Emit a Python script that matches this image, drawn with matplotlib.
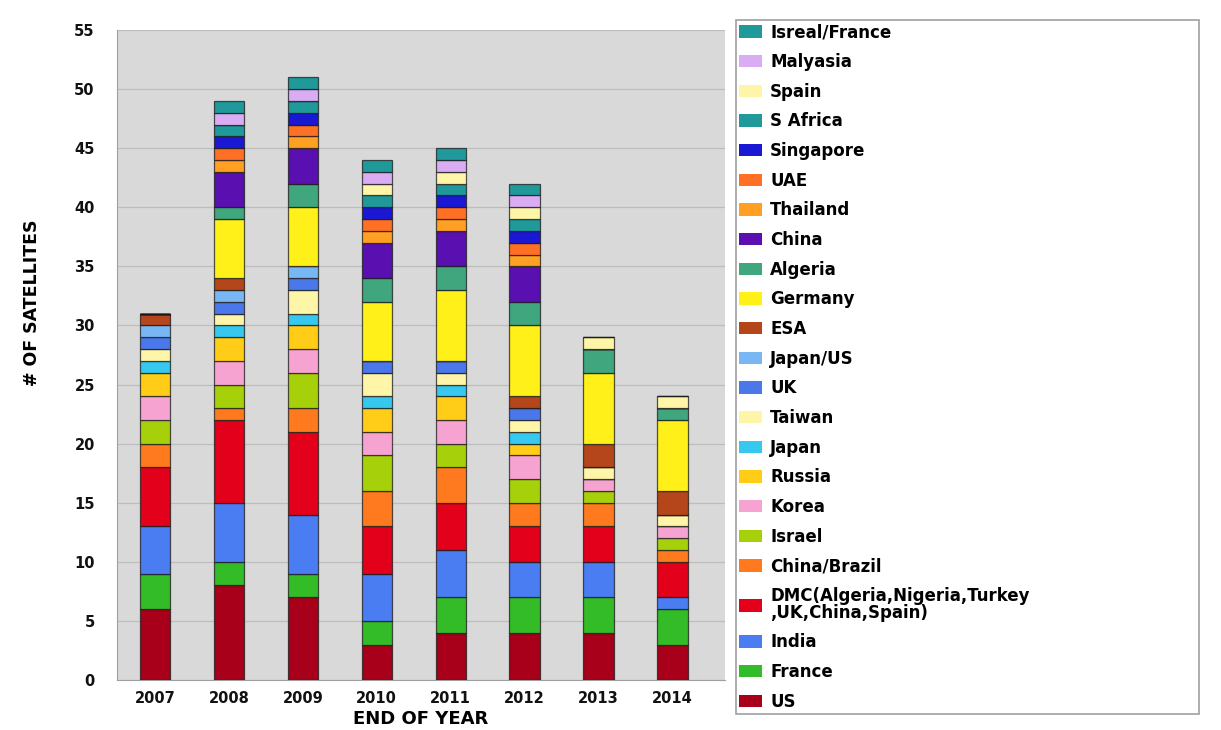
import matplotlib
matplotlib.use("Agg")
import matplotlib.pyplot as plt
import numpy as np

years = ['2007', '2008', '2009', '2010', '2011', '2012', '2013', '2014']

US            = [6, 8, 7, 3, 4, 4, 4, 3]
France        = [3, 2, 2, 2, 3, 3, 3, 3]
India         = [4, 5, 5, 4, 4, 3, 3, 1]
DMC           = [5, 7, 7, 4, 4, 3, 3, 3]
China_Brazil  = [2, 1, 2, 3, 3, 2, 2, 1]
Israel        = [2, 2, 3, 3, 2, 2, 1, 1]
Korea         = [2, 2, 2, 2, 2, 2, 1, 1]
Russia        = [2, 2, 2, 2, 2, 1, 0, 0]
Japan         = [1, 1, 1, 1, 1, 1, 0, 0]
Taiwan        = [1, 1, 2, 2, 1, 1, 1, 1]
UK            = [1, 1, 1, 1, 1, 1, 0, 0]
Japan_US      = [1, 1, 1, 0, 0, 0, 0, 0]
ESA           = [1, 1, 0, 0, 0, 1, 2, 2]
Germany       = [0, 5, 5, 5, 6, 6, 6, 6]
Algeria       = [0, 1, 2, 2, 2, 2, 2, 1]
China         = [0, 3, 3, 3, 3, 3, 0, 0]
Thailand      = [0, 1, 1, 1, 1, 1, 0, 0]
UAE           = [0, 1, 1, 1, 1, 1, 0, 0]
Singapore     = [0, 1, 1, 1, 1, 1, 0, 0]
S_Africa      = [0, 1, 1, 1, 1, 1, 0, 0]
Spain         = [0, 0, 0, 1, 1, 1, 1, 1]
Malyasia      = [0, 1, 1, 1, 1, 1, 0, 0]
Isreal_France = [0, 1, 1, 1, 1, 1, 0, 0]

series_names = ['US', 'France', 'India',
                'DMC(Algeria,Nigeria,Turkey\n,UK,China,Spain)',
                'China/Brazil', 'Israel', 'Korea', 'Russia', 'Japan', 'Taiwan',
                'UK', 'Japan/US', 'ESA', 'Germany', 'Algeria', 'China',
                'Thailand', 'UAE', 'Singapore', 'S Africa', 'Spain',
                'Malyasia', 'Isreal/France']
series_values = [US, France, India, DMC, China_Brazil, Israel, Korea, Russia,
                 Japan, Taiwan, UK, Japan_US, ESA, Germany, Algeria, China,
                 Thailand, UAE, Singapore, S_Africa, Spain, Malyasia,
                 Isreal_France]
series_colors = ['#a8001a', '#33bb28', '#4a7cf2', '#e3001b', '#ff7a1e',
                 '#a6d10a', '#f7a3d2', '#ffcc18', '#36c8ee', '#fff5a8',
                 '#4a78ea', '#79b6f4', '#b5461c', '#fff01a', '#3fa67e',
                 '#5a10b0', '#ffa024', '#ff7024', '#1a18d2', '#20999a',
                 '#fff5a8', '#d9acf4', '#20999a']

fig = plt.figure(figsize=(12.21, 7.30), dpi=100)
fig.patch.set_facecolor('white')
ax = fig.add_axes([117 / 1221, 1 - 680 / 730, 608 / 1221, 650 / 730])
ax.set_facecolor('#d9d9d9')

x = np.arange(len(years))
bottom = np.zeros(len(years))
handles = []
for name, vals, col in zip(series_names, series_values, series_colors):
    v = np.array(vals, dtype=float)
    b = ax.bar(x, v, width=0.41, bottom=bottom, color=col,
               edgecolor=(0.1, 0.1, 0.1, 0.75), linewidth=0.9,
               label=name, zorder=3)
    handles.append(b)
    bottom += v

ax.set_ylim(0, 55)
ax.set_xlim(-0.514, 7.71)
ax.set_yticks(np.arange(0, 56, 5))
ax.set_xticks(x)
ax.set_xticklabels(years)
ax.yaxis.grid(True, color='#bdbdbd', linewidth=0.9, zorder=0)
ax.set_axisbelow(True)
for s in ['top', 'right']:
    ax.spines[s].set_visible(False)
ax.spines['left'].set_color('#a0a0a0')
ax.spines['bottom'].set_color('#a0a0a0')
ax.tick_params(axis='both', length=0)
ax.tick_params(axis='y', pad=16)
ax.tick_params(axis='x', pad=8)
for lab in ax.get_yticklabels() + ax.get_xticklabels():
    lab.set_fontweight('bold')
    lab.set_fontsize(10.5)
    lab.set_color('#111111')

ax.set_xlabel('END OF YEAR', fontsize=13, fontweight='bold', labelpad=3)
ax.set_ylabel('# OF SATELLITES', fontsize=12.5, fontweight='bold')
ax.yaxis.set_label_coords(-0.125, 0.58)

leg = fig.legend(handles[::-1], series_names[::-1], loc='upper left',
                 bbox_to_anchor=(736 / 1221, 1 - 20 / 730, 463 / 1221, 0.0),
                 mode='expand', frameon=True, fancybox=False,
                 prop={'weight': 'bold', 'size': 12},
                 handlelength=1.35, handleheight=0.75, handletextpad=0.5,
                 labelspacing=0.70, borderaxespad=0.0, borderpad=0.2)
leg.get_frame().set_edgecolor('#888888')
leg.get_frame().set_linewidth(1.2)
for h in leg.legend_handles:
    h.set_edgecolor('none')
for t in leg.get_texts():
    if t.get_text().startswith('DMC'):
        t.set_linespacing(0.9)

fig.savefig('out.png', dpi=100)
